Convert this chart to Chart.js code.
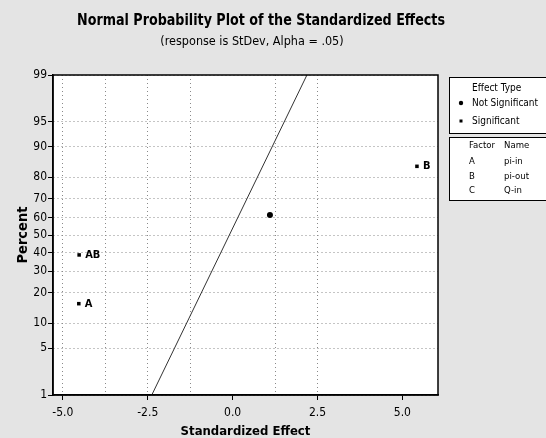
<!DOCTYPE html>
<html><head><meta charset="utf-8">
<script src="https://cdn.jsdelivr.net/npm/chart.js@4/dist/chart.umd.min.js"></script>
<style>html,body{margin:0;padding:0;background:#e4e4e4}#wrap{width:546px;height:438px}</style>
</head><body><div id="wrap"><canvas id="c" width="546" height="438"></canvas></div>
<script>
// ---- data ----
const sigNames = ['A', 'AB', 'B'];
const sigEffects = [-4.53, -4.52, 5.43];
const sigPercent = [15.9, 38.6, 84.1];
const nsEffects = [1.10];
const nsPercent = [61.4];
const lineEffects = [-2.38, 2.19];
const linePercent = [1, 99];
const yTickPercent = [1, 5, 10, 20, 30, 40, 50, 60, 70, 80, 90, 95, 99];
const xTickValues = [-5.0, -2.5, 0.0, 2.5, 5.0];
const xGridValues = [-5.0, -3.75, -2.5, -1.25, 0.0, 1.25, 2.5, 3.75, 5.0];
const xGridShown = [-5.0, -3.75, -2.5, -1.25, 1.25, 2.5];
const factorCodes = ['A', 'B', 'C'];
const factorNames = ['pi-in', 'pi-out', 'Q-in'];
const effectTypes = ['Not Significant', 'Significant'];

const FONT = "'DejaVu Sans Condensed','Liberation Sans Narrow','DejaVu Sans',sans-serif";

// inverse standard normal CDF (Acklam)
function probit(p) {
  const a = [-3.969683028665376e+01, 2.209460984245205e+02, -2.759285104469687e+02, 1.383577518672690e+02, -3.066479806614716e+01, 2.506628277459239e+00];
  const b = [-5.447609879822406e+01, 1.615858368580409e+02, -1.556989798598866e+02, 6.680131188771972e+01, -1.328068155288572e+01];
  const c = [-7.784894002430293e-03, -3.223964580411365e-01, -2.400758277161838e+00, -2.549732539343734e+00, 4.374664141464968e+00, 2.938163982698783e+00];
  const d = [7.784695709041462e-03, 3.224671290700398e-01, 2.445134137142996e+00, 3.754408661907416e+00];
  const pl = 0.02425, ph = 1 - pl;
  let q, r;
  if (p < pl) { q = Math.sqrt(-2 * Math.log(p)); return (((((c[0]*q+c[1])*q+c[2])*q+c[3])*q+c[4])*q+c[5]) / ((((d[0]*q+d[1])*q+d[2])*q+d[3])*q+1); }
  if (p <= ph) { q = p - 0.5; r = q*q; return (((((a[0]*r+a[1])*r+a[2])*r+a[3])*r+a[4])*r+a[5])*q / (((((b[0]*r+b[1])*r+b[2])*r+b[3])*r+b[4])*r+1); }
  q = Math.sqrt(-2 * Math.log(1 - p)); return -(((((c[0]*q+c[1])*q+c[2])*q+c[3])*q+c[4])*q+c[5]) / ((((d[0]*q+d[1])*q+d[2])*q+d[3])*q+1);
}
const z = pct => probit(pct / 100);

const decor = {
  id: 'decor',
  beforeDraw(chart) {
    const {ctx, chartArea: a} = chart;
    ctx.save();
    ctx.fillStyle = '#e4e4e4';
    ctx.fillRect(0, 0, chart.width, chart.height);
    ctx.fillStyle = '#ffffff';
    ctx.fillRect(a.left, a.top, a.right - a.left, a.bottom - a.top);
    ctx.restore();
  },
  afterDraw(chart) {
    const {ctx, chartArea: a} = chart;
    const xs = chart.scales.x, ys = chart.scales.y;
    ctx.save();
    // frame
    ctx.strokeStyle = '#000'; ctx.lineWidth = 1.5;
    ctx.strokeRect(a.left, a.top, a.right - a.left, a.bottom - a.top);
    // point labels
    ctx.fillStyle = '#000';
    ctx.font = 'bold 11px ' + FONT;
    ctx.textBaseline = 'middle'; ctx.textAlign = 'left';
    sigNames.forEach((n, i) => {
      ctx.fillText(n, xs.getPixelForValue(sigEffects[i]) + 6, ys.getPixelForValue(z(sigPercent[i])));
    });
    // titles: drawn at a fixed size, squeezed horizontally to the reference width
    const fitText = (txt, weight, size, targetW, cx, cy) => {
      ctx.save();
      ctx.font = weight + ' ' + size + 'px ' + FONT;
      const w = ctx.measureText(txt).width;
      const s = Math.min(1, targetW / w);
      ctx.translate(cx, cy); ctx.scale(s, 1);
      ctx.textAlign = 'center'; ctx.textBaseline = 'middle';
      ctx.fillText(txt, 0, 0);
      ctx.restore();
    };
    fitText('Normal Probability Plot of the Standardized Effects', 'bold', 15.5, 368, 261, 21);
    fitText('(response is StDev, Alpha = .05)', 'normal', 12.5, 194, 252, 42);
    // legend boxes
    ctx.lineWidth = 1; ctx.strokeStyle = '#000'; ctx.fillStyle = '#fff';
    ctx.fillRect(449.5, 77.5, 100, 56); ctx.strokeRect(449.5, 77.5, 100, 56);
    ctx.fillRect(449.5, 137.5, 100, 63); ctx.strokeRect(449.5, 137.5, 100, 63);
    ctx.fillStyle = '#000';
    ctx.font = '10px ' + FONT; ctx.textAlign = 'left'; ctx.textBaseline = 'middle';
    ctx.fillText('Effect Type', 472, 88);
    ctx.fillText(effectTypes[0], 472, 103);
    ctx.fillText(effectTypes[1], 472, 121);
    ctx.beginPath(); ctx.arc(461, 103, 2.2, 0, Math.PI * 2); ctx.fill();
    ctx.fillRect(459.5, 119.5, 3, 3);
    ctx.font = '9.5px ' + FONT;
    ctx.fillText('Factor', 469, 146);
    ctx.fillText('Name', 504, 146);
    const rowsY = [162, 177, 191];
    factorCodes.forEach((c, i) => {
      ctx.fillText(c, 469, rowsY[i]);
      ctx.fillText(factorNames[i], 504, rowsY[i]);
    });
    ctx.restore();
  }
};

new Chart(document.getElementById('c'), {
  type: 'scatter',
  data: {
    datasets: [
      {
        type: 'line', label: 'Reference',
        data: lineEffects.map((x, i) => ({x, y: z(linePercent[i])})),
        borderColor: '#333', borderWidth: 1, pointRadius: 0, fill: false, tension: 0
      },
      {
        label: 'Not Significant',
        data: nsEffects.map((x, i) => ({x, y: z(nsPercent[i])})),
        pointStyle: 'circle', pointRadius: 3, backgroundColor: '#000', borderColor: '#000', borderWidth: 0
      },
      {
        label: 'Significant',
        data: sigEffects.map((x, i) => ({x, y: z(sigPercent[i])})),
        pointStyle: 'rect', pointRadius: 2.5, backgroundColor: '#000', borderColor: '#000', borderWidth: 0
      }
    ]
  },
  options: {
    responsive: false, animation: false, devicePixelRatio: 1,
    layout: {padding: {top: 75, right: 108, left: 0, bottom: 0}},
    plugins: {legend: {display: false}, tooltip: {enabled: false}, title: {display: false}},
    scales: {
      x: {
        type: 'linear', min: -5.29, max: 6.05,
        afterBuildTicks: axis => { axis.ticks = xGridValues.map(v => ({value: v})); },
        afterFit: axis => { axis.height = 43; },
        ticks: {
          autoSkip: false, maxRotation: 0, padding: 6, color: '#000',
          font: {family: FONT, size: 12},
          callback: v => xTickValues.includes(v) ? v.toFixed(1) : ''
        },
        grid: {
          color: ctx => (ctx.tick && xGridShown.includes(ctx.tick.value)) ? '#8a8a8a' : 'rgba(0,0,0,0)',
          lineWidth: 1, drawTicks: true, tickLength: 5,
          tickColor: ctx => (ctx.tick && xTickValues.includes(ctx.tick.value)) ? '#000' : 'rgba(0,0,0,0)'
        },
        border: {display: true, color: '#000', width: 1.5, dash: [1, 3]},
        title: {display: true, text: 'Standardized Effect', color: '#000', padding: {top: 0, bottom: 0},
          font: {family: FONT, size: 13, weight: 'bold', lineHeight: 1}}
      },
      y: {
        type: 'linear', min: z(1), max: z(99),
        afterBuildTicks: axis => { axis.ticks = yTickPercent.map(p => ({value: z(p)})); },
        afterFit: axis => { axis.width = 53; },
        ticks: {
          autoSkip: false, padding: 1, color: '#000',
          font: {family: FONT, size: 12},
          callback: (v, i) => String(yTickPercent[i])
        },
        grid: {color: '#8a8a8a', lineWidth: 1, drawTicks: true, tickLength: 5, tickColor: '#000'},
        border: {display: true, color: '#000', width: 1.5, dash: [1, 3]},
        title: {display: true, text: 'Percent', color: '#000', padding: {top: 15.5, bottom: 0},
          font: {family: FONT, size: 14.5, weight: 'bold', lineHeight: 1}}
      }
    }
  },
  plugins: [decor]
});
</script>
</body></html>
